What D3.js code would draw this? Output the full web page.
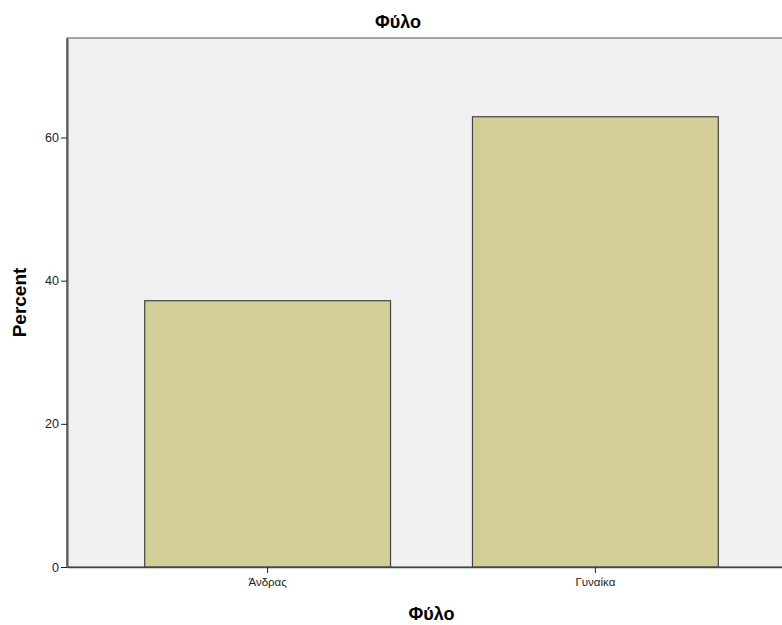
<!DOCTYPE html>
<html><head><meta charset="utf-8">
<script src="https://cdn.jsdelivr.net/npm/d3@7"></script>
<style>body{margin:0;background:#fff}svg{display:block}text{font-family:"Liberation Sans",Arial,sans-serif}</style>
</head><body>
<script>
const categories = ["Άνδρας", "Γυναίκα"];
const percents = [37.2, 62.9];
const yTicks = [0, 20, 40, 60];
const title = "Φύλο";
const xTitle = "Φύλο";
const yTitle = "Percent";

const W = 782, H = 625;
const svg = d3.select("body").append("svg").attr("width", W).attr("height", H);
const mLeft = 67, mTop = 38, mBottom = 567, mRight = 796;

const x = d3.scaleBand().domain(categories).range([mLeft, mRight]).paddingInner(0.25).paddingOuter(0.237);
const y = d3.scaleLinear().domain([0, 73.9]).range([mBottom, mTop]);

svg.append("rect").attr("x", mLeft).attr("y", mTop).attr("width", mRight - mLeft).attr("height", mBottom - mTop)
  .attr("fill", "#f0f0f0").attr("stroke", "#6e6e6e").attr("stroke-width", 1.2);

svg.selectAll("rect.bar").data(categories).join("rect").attr("class", "bar")
  .attr("x", d => x(d)).attr("width", x.bandwidth())
  .attr("y", (d, i) => y(percents[i])).attr("height", (d, i) => y(0) - y(percents[i]))
  .attr("fill", "#d3ce97").attr("stroke", "#444").attr("stroke-width", 1.2);

const yAxis = svg.append("g").attr("transform", `translate(${mLeft},0)`)
  .call(d3.axisLeft(y).tickValues(yTicks).tickSize(6).tickSizeOuter(0).tickPadding(2).tickFormat(d3.format("d")));
yAxis.select(".domain").attr("stroke", "#555").attr("stroke-width", 2);
yAxis.selectAll(".tick line").attr("stroke", "#222");
yAxis.selectAll("text").attr("font-size", 12.5).attr("fill", "#222").attr("font-family", "Liberation Sans, Arial, sans-serif");

const xAxis = svg.append("g").attr("transform", `translate(0,${mBottom})`)
  .call(d3.axisBottom(x).tickSize(6).tickPadding(5).tickSizeOuter(0));
xAxis.select(".domain").attr("stroke", "#444").attr("stroke-width", 1.5);
xAxis.selectAll(".tick line").attr("stroke", "#222");
xAxis.selectAll("text").attr("font-size", 11.5).attr("fill", "#222").attr("font-family", "Liberation Sans, Arial, sans-serif");

svg.append("text").attr("x", 398).attr("y", 28).attr("text-anchor", "middle")
  .attr("font-size", 18).attr("font-weight", "bold").text(title);
svg.append("text").attr("x", (mLeft + mRight) / 2).attr("y", 620).attr("text-anchor", "middle")
  .attr("font-size", 18).attr("font-weight", "bold").text(xTitle);
svg.append("text").attr("transform", `translate(26,${(mTop + mBottom) / 2}) rotate(-90)`).attr("text-anchor", "middle")
  .attr("font-size", 19).attr("font-weight", "bold").text(yTitle);
</script>
</body></html>
